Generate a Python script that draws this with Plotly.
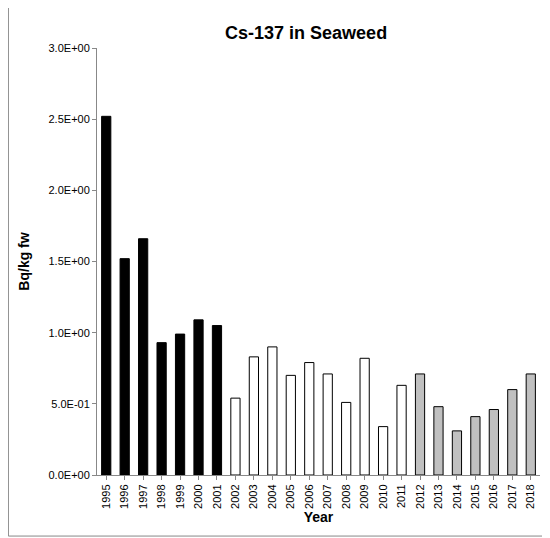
import plotly.graph_objects as go

years = [str(y) for y in range(1995, 2019)]
values = [2.52, 1.52, 1.66, 0.93, 0.99, 1.09, 1.05,
          0.54, 0.83, 0.90, 0.70, 0.79, 0.71, 0.51, 0.82, 0.34, 0.63,
          0.71, 0.48, 0.31, 0.41, 0.46, 0.60, 0.71]
colors = ["black"] * 7 + ["white"] * 10 + ["#c0c0c0"] * 7
tick_vals = [0, 0.5, 1.0, 1.5, 2.0, 2.5, 3.0]
tick_text = ["0.0E+00", "5.0E-01", "1.0E+00", "1.5E+00", "2.0E+00", "2.5E+00", "3.0E+00"]

fig = go.Figure(go.Bar(x=years, y=values, marker=dict(color=colors, line=dict(color="black", width=1)), width=0.5))
fig.update_layout(
    width=542, height=530, paper_bgcolor="white", plot_bgcolor="white",
    margin=dict(l=89, r=10, t=40, b=63),
    title=dict(text="<b>Cs-137 in Seaweed</b>", x=0.55, y=0.965, xanchor="center", font=dict(size=18, color="black", family="Liberation Sans")),
    font=dict(family="Liberation Sans", color="black", size=11),
    showlegend=False, bargap=0.5,
    shapes=[dict(type="rect", xref="paper", yref="paper", x0=-0.2, y0=-0.143, x1=1.018, y1=1.11, line=dict(color="#888", width=1))],
)
fig.update_xaxes(type="category", tickangle=-90, showline=True, linecolor="#888", ticks="outside", ticklen=4, tickcolor="#888",
                 title=dict(text="<b>Year</b>", font=dict(size=14), standoff=4))
fig.update_yaxes(range=[0, 3.0], tickvals=tick_vals, ticktext=tick_text, showgrid=False, showline=True, linecolor="#888",
                 ticks="outside", ticklen=4, tickcolor="#888", title=dict(text="<b>Bq/kg fw</b>", font=dict(size=14)))
fig.write_html("out.html")
